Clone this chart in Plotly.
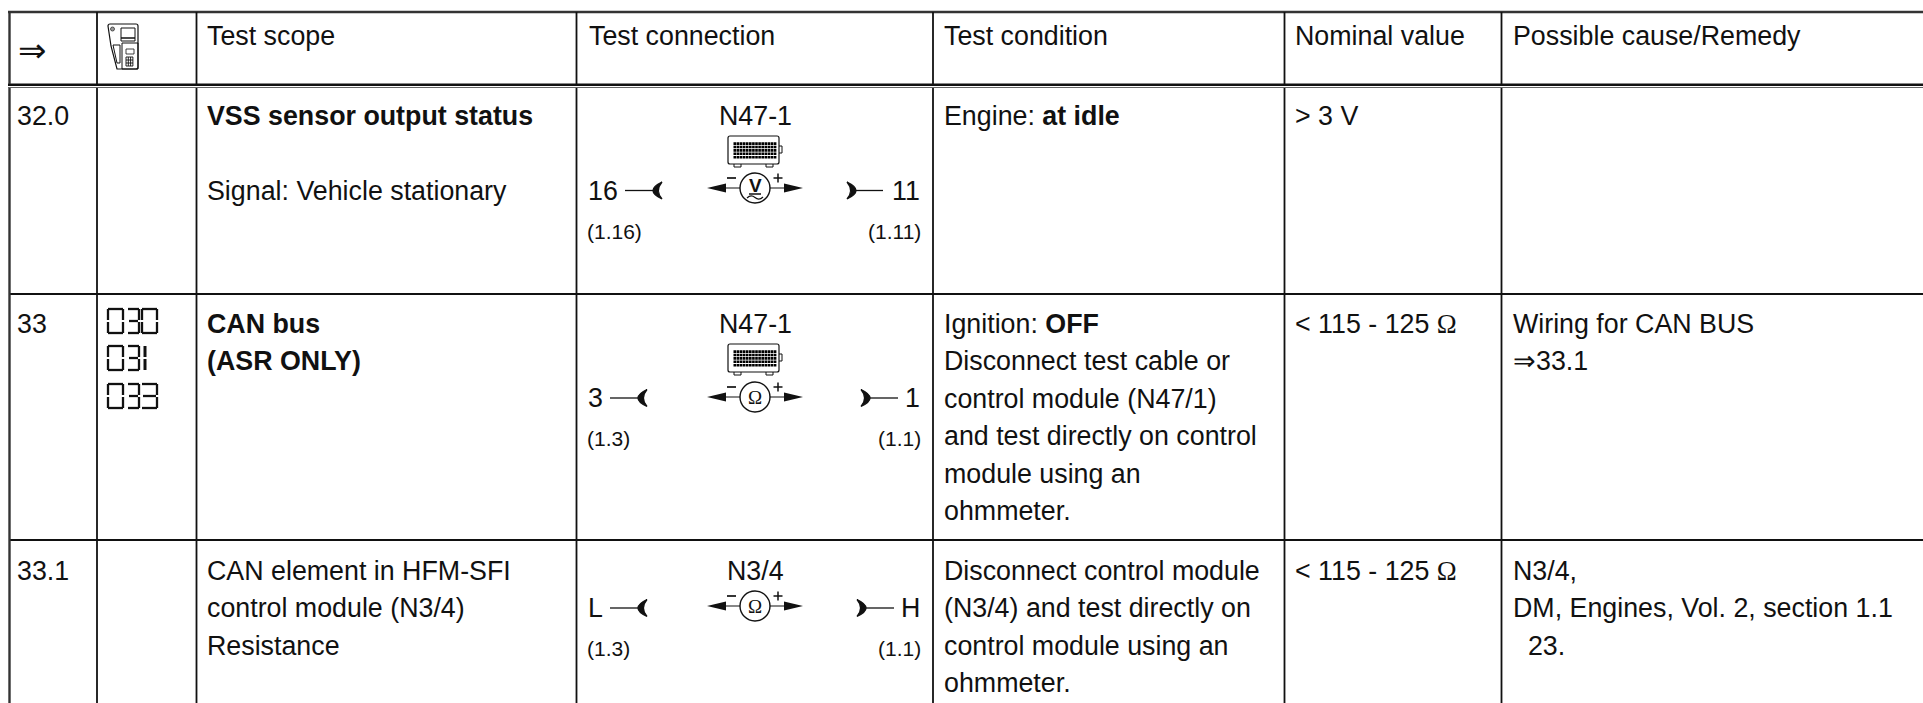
import plotly.graph_objects as go

# ---------- table content ----------
HEADERS = ["Test scope", "Test connection", "Test condition", "Nominal value", "Possible cause/Remedy"]
ROW_IDS = ["32.0", "33", "33.1"]
SCOPE = [
    ["<b>VSS sensor output status</b>", "", "Signal: Vehicle stationary"],
    ["<b>CAN bus</b>", "<b>(ASR ONLY)</b>"],
    ["CAN element in HFM-SFI", "control module (N3/4)", "Resistance"],
]
COMPONENT = ["N47-1", "N47-1", "N3/4"]
PIN_LEFT = ["16", "3", "L"]
PIN_RIGHT = ["11", "1", "H"]
SOCKET_LEFT = ["(1.16)", "(1.3)", "(1.3)"]
SOCKET_RIGHT = ["(1.11)", "(1.1)", "(1.1)"]
METER = ["V", "Ω", "Ω"]
HAS_ECU = [True, True, False]
CONDITION = [
    ["Engine: <b>at idle</b>"],
    ["Ignition: <b>OFF</b>", "Disconnect test cable or", "control module (N47/1)",
     "and test directly on control", "module using an", "ohmmeter."],
    ["Disconnect control module", "(N3/4) and test directly on", "control module using an", "ohmmeter."],
]
OHM = '<span style="font-family:Liberation Serif">Ω</span>'
NOMINAL = [["> 3 V"], ["< 115 - 125 " + OHM], ["< 115 - 125 " + OHM]]
CAUSE = [
    [""],
    ["Wiring for CAN BUS", "⇒33.1"],
    ["N3/4,", "DM, Engines, Vol. 2, section 1.1", "\u00a0\u00a023."],
]
CODES = ["030", "031", "033"]

# ---------- layout geometry ----------
W, H = 1923, 703
COL_X = [9.5, 97, 196.5, 576.5, 933, 1284.5, 1501.5]
TEXT_X = [16.5, None, 207, 589, 944, 1295, 1512.5]
HEAD_BASE = 45
ROW_BASE = [125, 333, 580]
ROW_LINES = [294, 540]
PITCH = 37.5
FS = 26.8
FS_S = 21
INK = "#111111"

shapes, notes = [], []


def text(x, base, s, size=FS, anchor="left", family="Liberation Sans", color=INK):
    notes.append(dict(x=x, y=base - 0.3465 * size, text=s, showarrow=False, xanchor=anchor,
                      yanchor="middle", xref="x", yref="y", borderpad=0, borderwidth=0,
                      font=dict(size=size, family=family, color=color)))


def line(x0, y0, x1, y1, w=1.8, c="#111111"):
    shapes.append(dict(type="line", x0=x0, y0=y0, x1=x1, y1=y1, line=dict(color=c, width=w)))


def path(d, fill=None, w=1.3, c="#111111"):
    shapes.append(dict(type="path", path=d, fillcolor=fill or "rgba(0,0,0,0)",
                       line=dict(color=c, width=w if w else 0)))


# rules
line(8, 12, W, 12, 2.4, "#333333")
line(8, 84.7, W, 84.7, 2.4, "#111111")
line(8, 87.5, W, 87.5, 1.2, "#666666")
for y in ROW_LINES:
    line(COL_X[0], y, W, y, 1.9)
for i, x in enumerate(COL_X):
    w = 2.4 if i == 0 else 1.8
    c = "#333333" if i == 0 else "#111111"
    line(x, 12, x, 84, w, c)
    line(x, 88, x, H, w, c)

# header row
text(18, 62, "⇒", 34, family="DejaVu Sans")
for x, s in zip([TEXT_X[2], TEXT_X[3], TEXT_X[4], TEXT_X[5], TEXT_X[6]], HEADERS):
    text(x, HEAD_BASE, s)

# handheld tester icon
path("M 110 24 L 136 24 Q 138 24 138 26 L 138 67 Q 138 69 136 69 L 117 69 L 111 46 L 108 26 Q 108 24 110 24 Z", w=1.2)
path("M 121 28 H 135 V 38 H 121 Z", w=1.0)
path("M 121 38 H 135 V 41 H 121 Z", w=1.0)
path("M 122 43 H 138 V 69 H 122 Z", w=1.0)
path("M 113 45 H 120 V 63 H 117 Z", w=1.0)
path("M 126 49 H 134 V 54 H 126 Z", w=0.8)
for k in range(4):
    line(126, 57 + 3 * k, 133, 57 + 3 * k, 0.9)
for k in range(4):
    line(126 + 2.3 * k, 57, 126 + 2.3 * k, 66, 0.9)
shapes.append(dict(type="circle", x0=110.5, y0=27, x1=114.5, y1=31,
                   fillcolor="#999999", line=dict(color="#333333", width=0.8)))

# seven-segment fault codes
SEGMENTS = {"0": "abcdef", "1": "bc", "3": "abcdg"}
DIGIT_X = [108, 128, 142]
DIGIT_W = [15, 11, 15]
CODE_Y = [309, 346, 384]
DH = 24


def digit(ch, x, y, dw):
    xr, ym, yb = x + dw, y + DH / 2, y + DH
    if ch == "1":
        x = xr = x + 3
    seg = dict(a=(x, y, xr, y), b=(xr, y, xr, ym - 1), c=(xr, ym + 1, xr, yb), d=(x, yb, xr, yb),
               e=(x, ym + 1, x, yb), f=(x, y, x, ym - 1), g=(x + 1, ym, xr - 1, ym))
    for s in SEGMENTS[ch]:
        line(*seg[s], 3 if ch == "1" else 2.3)


for code, y in zip(CODES, CODE_Y):
    for ch, x, dw in zip(code, DIGIT_X, DIGIT_W):
        digit(ch, x, y, dw)

# meter diagrams
WIRE_L = [(625, 653), (610, 638), (610, 638)]
WIRE_R = [(856, 883), (870, 898), (866, 894)]
WIRE_Y = [190.5, 398, 608]
METER_Y = [188, 397, 606]
ECU_Y = [136, 344, None]
METER_X = 755


def ecu(y):
    path(f"M 730 {y} H 777 Q 779 {y} 779 {y+2} V {y+26} Q 779 {y+28} 777 {y+28} H 730 "
         f"Q 728 {y+28} 728 {y+26} V {y+2} Q 728 {y} 730 {y} Z", w=1.2)
    path(f"M 779 {y+10} H 782 V {y+17} H 779", w=1.0)
    path(f"M 734 {y+28} V {y+31} H 741 V {y+28}", w=1.0)
    path(f"M 766 {y+28} V {y+31} H 773 V {y+28}", w=1.0)
    d = ""
    for r in range(5):
        for q in range(14):
            cx, cy = 733.5 + q * 3.1, y + 6.3 + r * 3.4
            d += f"M {cx} {cy} H {cx+2.6} V {cy+2.6} H {cx} Z "
    path(d, fill="#000000", w=0)


def meter(sym, y):
    line(725, y, 785, y, 1.2)
    path(f"M 707 {y} L 726 {y-4.5} L 726 {y+4.5} Z", fill="#111111", w=0)
    path(f"M 803 {y} L 784 {y-4.5} L 784 {y+4.5} Z", fill="#111111", w=0)
    shapes.append(dict(type="circle", x0=METER_X - 15, y0=y - 15, x1=METER_X + 15, y1=y + 15,
                       fillcolor="white", line=dict(color="#111111", width=1.4)))
    line(727, y - 10, 736, y - 10, 1.7)
    line(773.5, y - 10, 782.5, y - 10, 1.5)
    line(778, y - 14.5, 778, y - 5.5, 1.5)
    if sym == "V":
        text(METER_X, y + 4.5, "<b>V</b>", 19, "center")
        line(METER_X - 6, y + 6, METER_X + 6, y + 6, 1.5)
        path(f"M {METER_X-8} {y+10} Q {METER_X-4} {y+6} {METER_X} {y+9.5} T {METER_X+8} {y+9}", w=1.2)
    else:
        text(METER_X, y + 7, sym, 19, "center", family="Liberation Serif")


def crescent(tip, body, y):
    span = tip - body
    outer = tip - 2 * span
    inner = tip - 0.8 * span
    path(f"M {tip} {y-8.5} Q {outer} {y} {tip} {y+8.5} Q {inner} {y} {tip} {y-8.5} Z", fill="#111111", w=1.3)


for i in range(3):
    text(755, ROW_BASE[i], COMPONENT[i], FS, "center")
    if HAS_ECU[i]:
        ecu(ECU_Y[i])
    meter(METER[i], METER_Y[i])
    y = WIRE_Y[i]
    line(WIRE_L[i][0], y, WIRE_L[i][1], y, 1.3)
    crescent(WIRE_L[i][1] + 9, WIRE_L[i][1], y)
    line(WIRE_R[i][0], y, WIRE_R[i][1], y, 1.3)
    crescent(WIRE_R[i][0] - 9, WIRE_R[i][0], y)
    text(588, y + 9.5, PIN_LEFT[i], FS)
    text(920, y + 9.5, PIN_RIGHT[i], FS, "right")
    text(587, y + 48, SOCKET_LEFT[i], FS_S)
    text(921, y + 48, SOCKET_RIGHT[i], FS_S, "right")

# row text
for i, rid in enumerate(ROW_IDS):
    text(TEXT_X[0], ROW_BASE[i], rid)
    for col, cell in ((2, SCOPE), (4, CONDITION), (5, NOMINAL), (6, CAUSE)):
        for k, s in enumerate(cell[i]):
            if s:
                text(TEXT_X[col], ROW_BASE[i] + k * PITCH, s)

fig = go.Figure()
fig.update_layout(
    width=W, height=H, margin=dict(l=0, r=0, t=0, b=0), autosize=False,
    paper_bgcolor="white", plot_bgcolor="white", showlegend=False,
    xaxis=dict(range=[0, W], visible=False, fixedrange=True),
    yaxis=dict(range=[H, 0], visible=False, fixedrange=True),
    shapes=shapes, annotations=notes,
)
fig.write_html("out.html", config=dict(displayModeBar=False),
               post_script="document.body.style.margin='0';document.body.style.overflow='hidden';")
